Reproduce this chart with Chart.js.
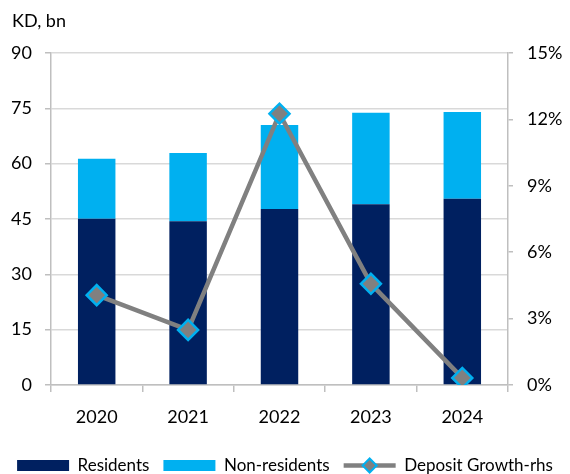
<!DOCTYPE html>
<html>
<head>
<meta charset="utf-8">
<script src="https://cdn.jsdelivr.net/npm/chart.js@4/dist/chart.umd.min.js"></script>
<style>
  html, body { margin: 0; padding: 0; background: #fff; }
  #wrap { width: 570px; height: 474px; position: relative; }
</style>
</head>
<body>
<div id="wrap"><canvas id="depositChart"></canvas></div>
<script>
const years = ['2020', '2021', '2022', '2023', '2024'];
const residents = [45.1, 44.4, 47.7, 49.0, 50.5];
const nonResidents = [16.2, 18.5, 22.8, 24.8, 23.5];
const depositGrowth = [4.06, 2.49, 12.26, 4.57, 0.32];
const leftTicks = [0, 15, 30, 45, 60, 75, 90];
const rightTicks = [0, 3, 6, 9, 12, 15];

const NAVY = '#002060';
const CYAN = '#00b0f0';
const LINE_GREY = '#808080';
const AXIS_GREY = '#bfbfbf';
const FONT = 'Lato, "Open Sans", sans-serif';

// unit label above the left axis + line/diamond legend swatch
const extras = {
    id: 'extras',
    afterDraw(chart) {
        const c = chart.ctx;
        c.save();
        c.fillStyle = '#000';
        c.font = '18px ' + FONT;
        c.textBaseline = 'middle';
        c.textAlign = 'left';
        c.fillText('KD, bn', 12, 21);

        const box = chart.legend.legendHitBoxes[2];
        if (box) {
            const y = box.top + box.height / 2;
            const x0 = box.left, x1 = box.left + 52;
            c.strokeStyle = LINE_GREY;
            c.lineWidth = 4.5;
            c.beginPath();
            c.moveTo(x0, y);
            c.lineTo(x1, y);
            c.stroke();
            const cx = (x0 + x1) / 2, r = 7;
            c.beginPath();
            c.moveTo(cx, y - r);
            c.lineTo(cx + r, y);
            c.lineTo(cx, y + r);
            c.lineTo(cx - r, y);
            c.closePath();
            c.fillStyle = LINE_GREY;
            c.fill();
            c.strokeStyle = CYAN;
            c.lineWidth = 2;
            c.stroke();
        }
        c.restore();
    }
};

new Chart(document.getElementById('depositChart').getContext('2d'), {
    type: 'bar',
    data: {
        labels: years,
        datasets: [
            {
                label: 'Residents',
                data: residents,
                backgroundColor: NAVY,
                yAxisID: 'y',
                order: 1,
                barPercentage: 0.41,
                categoryPercentage: 1
            },
            {
                label: 'Non-residents',
                data: nonResidents,
                backgroundColor: CYAN,
                yAxisID: 'y',
                order: 1,
                barPercentage: 0.41,
                categoryPercentage: 1
            },
            {
                type: 'line',
                label: 'Deposit Growth-rhs',
                data: depositGrowth,
                yAxisID: 'y1',
                order: 0,
                borderColor: LINE_GREY,
                backgroundColor: LINE_GREY,
                borderWidth: 4.5,
                pointStyle: 'rectRot',
                pointRadius: 10,
                pointBackgroundColor: LINE_GREY,
                pointBorderColor: CYAN,
                pointBorderWidth: 2.5,
                tension: 0
            }
        ]
    },
    options: {
        responsive: true,
        maintainAspectRatio: false,
        animation: false,
        layout: { padding: { top: 53, left: 0, right: 0, bottom: -10 } },
        plugins: {
            tooltip: { enabled: false },
            legend: {
                position: 'bottom',
                labels: {
                    color: '#000',
                    font: { family: FONT, size: 17 },
                    boxWidth: 52,
                    boxHeight: 11,
                    padding: 14,
                    sort: (a, b) => a.datasetIndex - b.datasetIndex,
                    generateLabels(chart) {
                        const items = Chart.defaults.plugins.legend.labels.generateLabels(chart);
                        items.forEach(it => {
                            it.lineWidth = 0;
                            if (it.datasetIndex === 2) {
                                it.fillStyle = 'rgba(0,0,0,0)';
                                it.strokeStyle = 'rgba(0,0,0,0)';
                            }
                        });
                        return items;
                    }
                }
            }
        },
        scales: {
            x: {
                stacked: true,
                border: { color: AXIS_GREY, width: 1.5 },
                grid: {
                    offset: true,
                    drawOnChartArea: false,
                    drawTicks: true,
                    tickLength: 7,
                    color: AXIS_GREY,
                    lineWidth: 1.5
                },
                ticks: { color: '#000', font: { family: FONT, size: 18 }, padding: 14 },
                afterFit(scale) { scale.height = 58; }
            },
            y: {
                stacked: true,
                position: 'left',
                min: 0,
                max: 90,
                border: { color: AXIS_GREY, width: 1.5 },
                grid: { color: '#d9d9d9', lineWidth: 1.5, tickLength: 6, tickColor: AXIS_GREY },
                afterBuildTicks(scale) { scale.ticks = leftTicks.map(v => ({ value: v })); },
                ticks: { color: '#000', font: { family: FONT, size: 18 }, padding: 13 },
                afterFit(scale) { scale.width = 51; }
            },
            y1: {
                position: 'right',
                min: 0,
                max: 15,
                border: { color: AXIS_GREY, width: 1.5 },
                grid: { drawOnChartArea: false, tickLength: 5, color: AXIS_GREY, lineWidth: 1.5 },
                afterBuildTicks(scale) { scale.ticks = rightTicks.map(v => ({ value: v })); },
                ticks: {
                    color: '#000',
                    font: { family: FONT, size: 18 },
                    padding: 14,
                    callback: v => v + '%'
                },
                afterFit(scale) { scale.width = 62; }
            }
        }
    },
    plugins: [extras]
});
</script>
</body>
</html>
